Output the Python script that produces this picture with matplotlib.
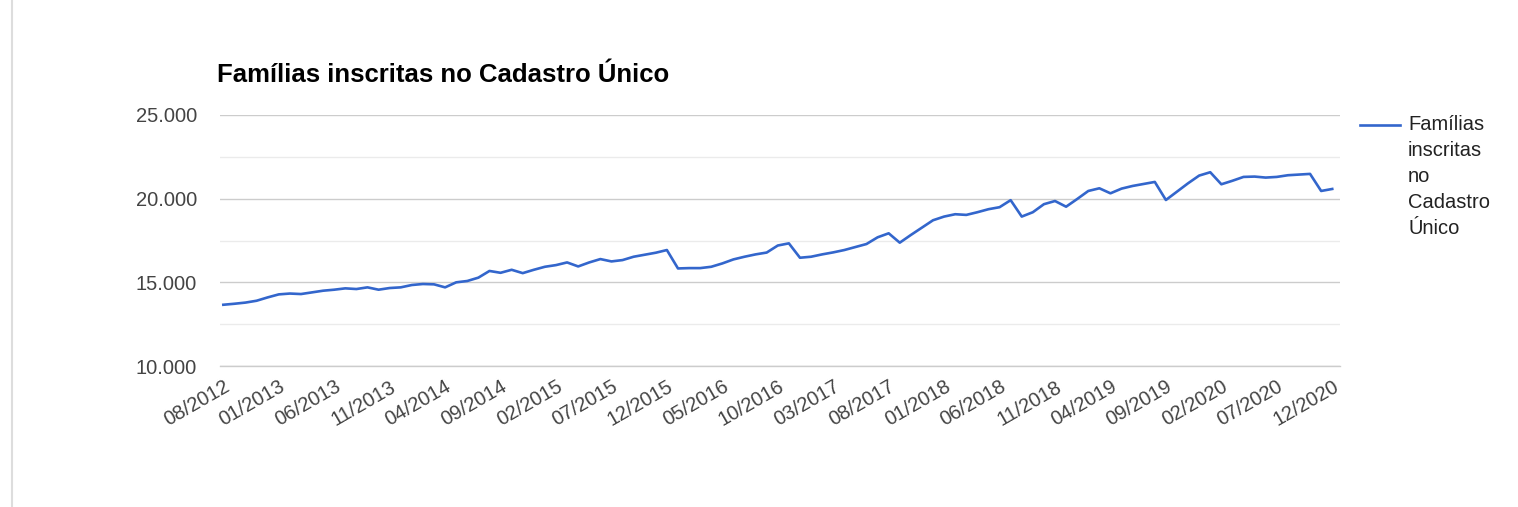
import matplotlib.pyplot as plt
import matplotlib.ticker as mticker
from matplotlib.lines import Line2D

plt.rcParams['font.family'] = ['Liberation Sans', 'DejaVu Sans']

# monthly values, 08/2012 .. 12/2020
familias = [
    13660, 13720, 13790, 13900, 14100, 14280, 14330, 14300, 14400, 14500,
    14560, 14640, 14600, 14700, 14560, 14660, 14700, 14840, 14900, 14880,
    14700, 15000, 15080, 15280, 15680, 15570, 15750, 15550, 15750, 15930,
    16030, 16190, 15950, 16190, 16390, 16250, 16330, 16530, 16650, 16770,
    16930, 15830, 15850, 15850, 15930, 16130, 16370, 16530, 16670, 16780,
    17200, 17330, 16470, 16530, 16670, 16790, 16930, 17110, 17290, 17690,
    17930, 17370, 17830, 18270, 18710, 18930, 19070, 19030, 19190, 19370,
    19490, 19910, 18930, 19190, 19670, 19860, 19520, 19980, 20460, 20620,
    20320, 20600, 20760, 20880, 21000, 19920, 20420, 20920, 21380, 21580,
    20860, 21070, 21300, 21320, 21260, 21300, 21400, 21440, 21480, 20460,
    20580,
]

# month labels, one for every month of the series
months = []
y, m = 2012, 8
for _ in familias:
    months.append(f'{m:02d}/{y}')
    m += 1
    if m > 12:
        m, y = 1, y + 1

title = 'Famílias inscritas no Cadastro Único'
legend_lines = ['Famílias', 'inscritas', 'no', 'Cadastro', 'Único']
blue = '#3366cc'
grey_txt = '#444444'

fig = plt.figure(figsize=(15.18, 5.07), dpi=100)
ax = fig.add_axes([220 / 1518, 1 - 366 / 507, 1120 / 1518, 251 / 507])

x = list(range(len(familias)))
ax.plot(x, familias, color=blue, linewidth=1.9, solid_joinstyle='round')

ax.set_xlim(-0.3, len(familias) - 0.3)
ax.set_ylim(10000, 25000)

ax.yaxis.set_major_locator(mticker.MultipleLocator(5000))
ax.yaxis.set_minor_locator(mticker.MultipleLocator(2500))
ax.yaxis.set_major_formatter(mticker.FuncFormatter(lambda v, p: f'{v:,.0f}'.replace(',', '.')))
ax.grid(axis='y', which='major', color='#cccccc', linewidth=1)
ax.grid(axis='y', which='minor', color='#ebebeb', linewidth=1)
ax.set_axisbelow(True)
# baseline sits on the bottom edge, draw it unclipped so it shows fully
ax.axhline(10000, color='#cccccc', linewidth=1, clip_on=False, zorder=0.5)

tick_pos = x[::5]
ax.set_xticks(tick_pos)
ax.set_xticklabels([months[i] for i in tick_pos], rotation=30, ha='right',
                   rotation_mode='anchor', fontsize=14.5, color=grey_txt)
ax.tick_params(axis='x', length=0, pad=8)
ax.tick_params(axis='y', which='both', length=0, pad=16.5, labelsize=14.5, labelcolor=grey_txt)
for s in ax.spines.values():
    s.set_visible(False)

fig.text(217 / 1518, 1 - 75 / 507, title, fontsize=18.5, fontweight='bold',
         color='black', va='center', ha='left')

# legend drawn by hand, the text wraps over several lines
fig.add_artist(Line2D([1360 / 1518, 1400 / 1518], [1 - 125 / 507, 1 - 125 / 507],
                      color=blue, linewidth=1.9))
for i, word in enumerate(legend_lines):
    fig.text(1408 / 1518, 1 - (125 + 26 * i) / 507, word, fontsize=14.5,
             color='#222222', va='center', ha='left')

# light container border on the left
fig.add_artist(Line2D([12 / 1518, 12 / 1518], [0, 1], color='#dddddd', linewidth=1.5))

fig.savefig('out.png', dpi=100)
